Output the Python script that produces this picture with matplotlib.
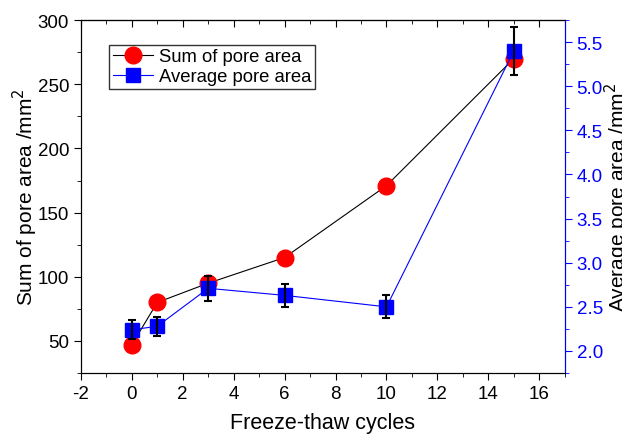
import matplotlib.pyplot as plt
from matplotlib.ticker import MultipleLocator

plt.rcParams["font.family"] = ["Liberation Sans", "DejaVu Sans"]
plt.rcParams["axes.unicode_minus"] = False

# data
cycles = [0, 1, 3, 6, 10, 15]
sum_area = [47, 80, 95, 115, 171, 270]
avg_area = [2.24, 2.28, 2.71, 2.63, 2.50, 5.40]
avg_err = [0.11, 0.11, 0.14, 0.13, 0.13, 0.27]

fig, ax = plt.subplots(figsize=(6.22, 4.39), dpi=100)
fig.subplots_adjust(left=0.13, right=0.908, top=0.952, bottom=0.148)
ax2 = ax.twinx()

# sum of pore area (left axis)
l1, = ax.plot(cycles, sum_area, color="black", lw=0.8, marker="o",
              markersize=12, markerfacecolor="red", markeredgecolor="red",
              label="Sum of pore area", zorder=3)

# average pore area (right axis)
l2, = ax2.plot(cycles, avg_area, color="blue", lw=0.8, marker="s",
               markersize=10, markerfacecolor="blue", markeredgecolor="blue",
               label="Average pore area", zorder=3)
ax2.errorbar(cycles, avg_area, yerr=avg_err, fmt="none", ecolor="black",
             elinewidth=1.5, capsize=3, capthick=1.5, zorder=4)

ax.set_xlim(-2, 17)
ax.set_ylim(25, 300)
ax2.set_ylim(1.75, 5.75)

ax.xaxis.set_major_locator(MultipleLocator(2))
ax.xaxis.set_minor_locator(MultipleLocator(1))
ax.yaxis.set_major_locator(MultipleLocator(50))
ax.yaxis.set_minor_locator(MultipleLocator(25))
ax2.yaxis.set_major_locator(MultipleLocator(0.5))
ax2.yaxis.set_minor_locator(MultipleLocator(0.25))
ax2.yaxis.set_major_formatter(plt.FormatStrFormatter("%.1f"))

# bottom ticks out, top ticks in
ax.tick_params(axis="x", which="both", direction="out", labelsize=13.5)
ax.tick_params(axis="x", which="major", length=5)
ax.tick_params(axis="x", which="minor", length=3)
ax.tick_params(axis="y", which="major", direction="out", length=5, labelsize=13.5)
ax.tick_params(axis="y", which="minor", direction="out", length=3)

top = ax.secondary_xaxis("top")
top.xaxis.set_major_locator(MultipleLocator(2))
top.xaxis.set_minor_locator(MultipleLocator(1))
top.tick_params(axis="x", which="both", direction="in", labeltop=False)
top.tick_params(axis="x", which="major", length=5)
top.tick_params(axis="x", which="minor", length=3)

ax2.tick_params(axis="y", which="both", colors="blue", labelsize=13.5)
ax2.tick_params(axis="y", which="major", length=5)
ax2.tick_params(axis="y", which="minor", length=3)
ax2.spines["right"].set_color("blue")

ax.set_xlabel("Freeze-thaw cycles", fontsize=15.5, labelpad=7)
ax.set_ylabel("Sum of pore area /mm$^2$", fontsize=15, labelpad=-2)
ax2.set_ylabel("Average pore area /mm$^2$", fontsize=15, labelpad=0)

leg = ax.legend(handles=[l1, l2], loc="upper left", bbox_to_anchor=(0.058, 0.93),
                fontsize=13.3, frameon=True, fancybox=False, edgecolor="black",
                handlelength=2.2, handletextpad=0.3, borderpad=0.2,
                labelspacing=0.15, borderaxespad=0)
leg.get_frame().set_linewidth(1.0)

fig.savefig("out.png", dpi=100)
